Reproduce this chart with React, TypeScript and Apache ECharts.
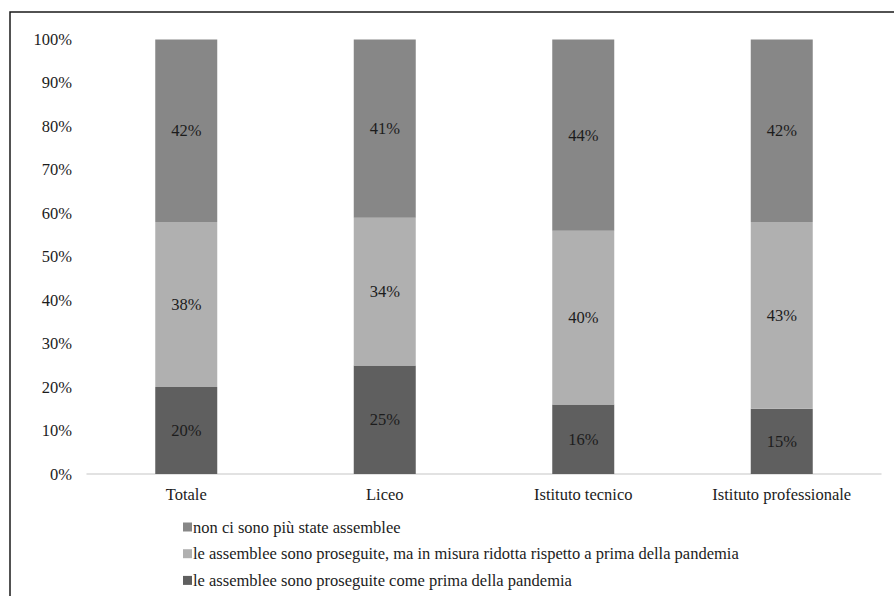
import React, { useEffect, useRef } from "react";
import * as echarts from "echarts";

const categories = ["Totale", "Liceo", "Istituto tecnico", "Istituto professionale"];
const seriesNames = [
  "le assemblee sono proseguite come prima della pandemia",
  "le assemblee sono proseguite, ma in misura ridotta rispetto a prima della pandemia",
  "non ci sono più state assemblee",
];
const comePrima = [20, 25, 16, 15];
const ridotte = [38, 34, 40, 43];
const nessuna = [42, 41, 44, 42];
const yTicks = [0, 10, 20, 30, 40, 50, 60, 70, 80, 90, 100];

const colors = ["#5f5f5f", "#b0b0b0", "#878787"];
const FONT = "Liberation Serif";
const TEXT = "#1c1c1c";
const FS = 16.5;

export default function App() {
  const ref = useRef<HTMLDivElement>(null);

  useEffect(() => {
    if (!ref.current) return;
    const chart = echarts.init(ref.current, undefined, { renderer: "svg" });
    const values = [comePrima, ridotte, nessuna];
    chart.setOption({
      animation: false,
      backgroundColor: "#ffffff",
      textStyle: { fontFamily: FONT, color: TEXT },
      grid: { left: 87, right: 13, top: 39.5, bottom: 122, containLabel: false },
      xAxis: {
        type: "category",
        data: categories,
        axisLine: { show: true, lineStyle: { color: "#d9d9d9", width: 1.5 } },
        axisTick: { show: false },
        axisLabel: { fontFamily: FONT, fontSize: FS, color: TEXT, margin: 12 },
      },
      yAxis: {
        type: "value",
        min: yTicks[0],
        max: yTicks[yTicks.length - 1],
        interval: 10,
        splitLine: { show: false },
        axisLine: { show: false },
        axisTick: { show: false },
        axisLabel: {
          fontFamily: FONT,
          fontSize: FS,
          color: TEXT,
          margin: 15,
          formatter: (v: number) => `${v}%`,
        },
      },
      legend: {
        orient: "vertical",
        left: 178,
        top: 512.5,
        itemWidth: 9,
        itemHeight: 9,
        itemGap: 7.7,
        icon: "rect",
        data: [seriesNames[2], seriesNames[1], seriesNames[0]],
        textStyle: { fontFamily: FONT, fontSize: FS, color: TEXT, lineHeight: 19, padding: [0, 0, 0, -4] },
      },
      graphic: [
        {
          type: "polyline",
          shape: { points: [[10, 596], [10, 12], [894, 12]] },
          style: { stroke: "#1a1a1a", lineWidth: 1.5, fill: "none" },
          silent: true,
        },
      ],
      series: seriesNames.map((name, i) => ({
        name,
        type: "bar",
        stack: "tot",
        barWidth: 62,
        data: values[i],
        itemStyle: { color: colors[i] },
        label: {
          show: true,
          position: "inside",
          fontFamily: FONT,
          fontSize: FS,
          color: TEXT,
          formatter: (p: any) => `${p.value}%`,
        },
      })),
    });
    return () => chart.dispose();
  }, []);

  return (
    <div
      ref={ref}
      style={{ position: "fixed", left: 0, top: 0, width: 894, height: 596, background: "#fff" }}
    />
  );
}
